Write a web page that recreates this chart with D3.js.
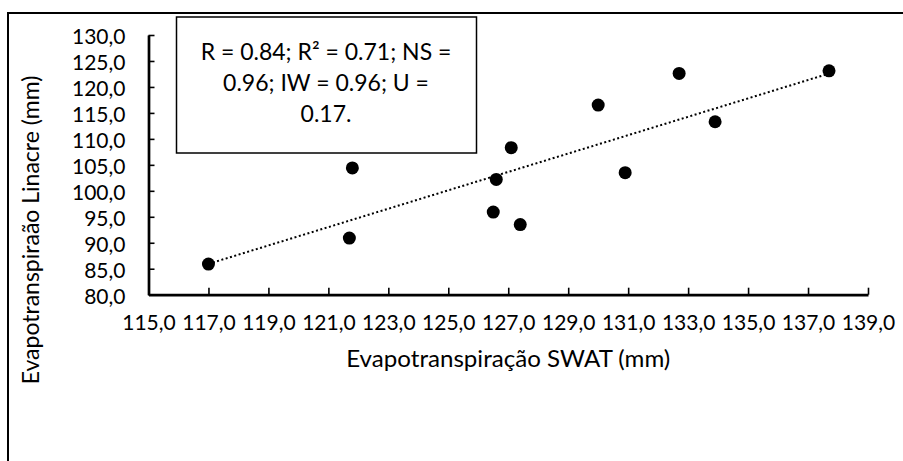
<!DOCTYPE html>
<html>
<head>
<meta charset="utf-8">
<script src="https://cdn.jsdelivr.net/npm/d3@7"></script>
<style>
  body { margin: 0; background: #fff; }
  text { font-family: Lato, "Open Sans", sans-serif; fill: #000; }
</style>
</head>
<body>
<div id="chart"></div>
<script>
// valores
const swat = [117.0, 121.7, 121.8, 127.1, 126.6, 126.5, 127.4, 130.0, 130.9, 132.7, 133.9, 137.7];
const linacre = [85.9, 90.9, 104.4, 108.3, 102.2, 95.9, 93.5, 116.5, 103.5, 122.6, 113.3, 123.1];
const xTicks = [115, 117, 119, 121, 123, 125, 127, 129, 131, 133, 135, 137, 139];
const yTicks = [80, 85, 90, 95, 100, 105, 110, 115, 120, 125, 130];
const statsLines = ["R = 0.84; R² = 0.71; NS =", "0.96; IW = 0.96; U =", "0.17."];

const width = 903, height = 461;
const fmt = (v) => d3.format(".1f")(v).replace(".", ",");

const svg = d3.select("#chart").append("svg")
    .attr("width", width)
    .attr("height", height);

// moldura externa
svg.append("path")
    .attr("d", `M8,${height + 5} L8,13 L${width + 5},13`)
    .attr("fill", "none")
    .attr("stroke", "#000")
    .attr("stroke-width", 2);

const x = d3.scaleLinear().domain([115, 139]).range([148.5, 868]);
const y = d3.scaleLinear().domain([80, 130]).range([294.7, 35]);

// eixo x
const xAxis = svg.append("g")
    .attr("transform", `translate(0,${y(80)})`)
    .call(d3.axisBottom(x).tickValues(xTicks).tickSize(-7).tickFormat(fmt).tickSizeOuter(0));
xAxis.select(".domain").attr("stroke-width", 2.7);
xAxis.selectAll(".tick line").attr("stroke-width", 1.6);
xAxis.selectAll(".tick text")
    .attr("y", 35)
    .attr("dy", 0)
    .style("font-size", "21px")
    .attr("font-family", "Lato");

// eixo y
const yAxis = svg.append("g")
    .attr("transform", `translate(${x(115)},0)`)
    .call(d3.axisLeft(y).tickValues(yTicks).tickSize(-6).tickFormat(fmt).tickSizeOuter(0));
yAxis.select(".domain").attr("stroke-width", 2.7);
yAxis.selectAll(".tick line").attr("stroke-width", 1.6);
yAxis.selectAll(".tick text")
    .attr("x", -23)
    .attr("dy", "0.4em")
    .style("font-size", "21px")
    .attr("font-family", "Lato");

// linha de tendência (mínimos quadrados)
const mx = d3.mean(swat), my = d3.mean(linacre);
let sxy = 0, sxx = 0;
swat.forEach((v, i) => { sxy += (v - mx) * (linacre[i] - my); sxx += (v - mx) * (v - mx); });
const slope = sxy / sxx;
const intercept = my - slope * mx;
const xExt = d3.extent(swat);

svg.append("line")
    .attr("x1", x(xExt[0]))
    .attr("y1", y(intercept + slope * xExt[0]))
    .attr("x2", x(xExt[1]))
    .attr("y2", y(intercept + slope * xExt[1]))
    .attr("stroke", "#000")
    .attr("stroke-width", 2)
    .attr("stroke-dasharray", "2,2.5");

// pontos
svg.append("g")
    .selectAll("circle")
    .data(swat.map((v, i) => [v, linacre[i]]))
    .enter()
    .append("circle")
    .attr("cx", (d) => x(d[0]))
    .attr("cy", (d) => y(d[1]))
    .attr("r", 6.5)
    .attr("fill", "#000");

// caixa de estatísticas
svg.append("rect")
    .attr("x", 176.5)
    .attr("y", 17)
    .attr("width", 300)
    .attr("height", 136)
    .attr("fill", "#fff")
    .attr("stroke", "#000")
    .attr("stroke-width", 1.5);

svg.append("g")
    .selectAll("text")
    .data(statsLines)
    .enter()
    .append("text")
    .attr("x", 326)
    .attr("y", (d, i) => 60 + i * 31)
    .attr("text-anchor", "middle")
    .style("font-size", "23px")
    .text((d) => d);

// títulos dos eixos
svg.append("text")
    .attr("x", (x.range()[0] + x.range()[1]) / 2)
    .attr("y", 367)
    .attr("text-anchor", "middle")
    .style("font-size", "23px")
    .attr("textLength", 324)
    .attr("lengthAdjust", "spacingAndGlyphs")
    .text("Evapotranspiração SWAT (mm)");

svg.append("text")
    .attr("transform", "translate(39,230) rotate(-90)")
    .attr("text-anchor", "middle")
    .style("font-size", "23px")
    .attr("font-family", "Open Sans")
    .text("Evapotranspiraão Linacre (mm)");
</script>
</body>
</html>
